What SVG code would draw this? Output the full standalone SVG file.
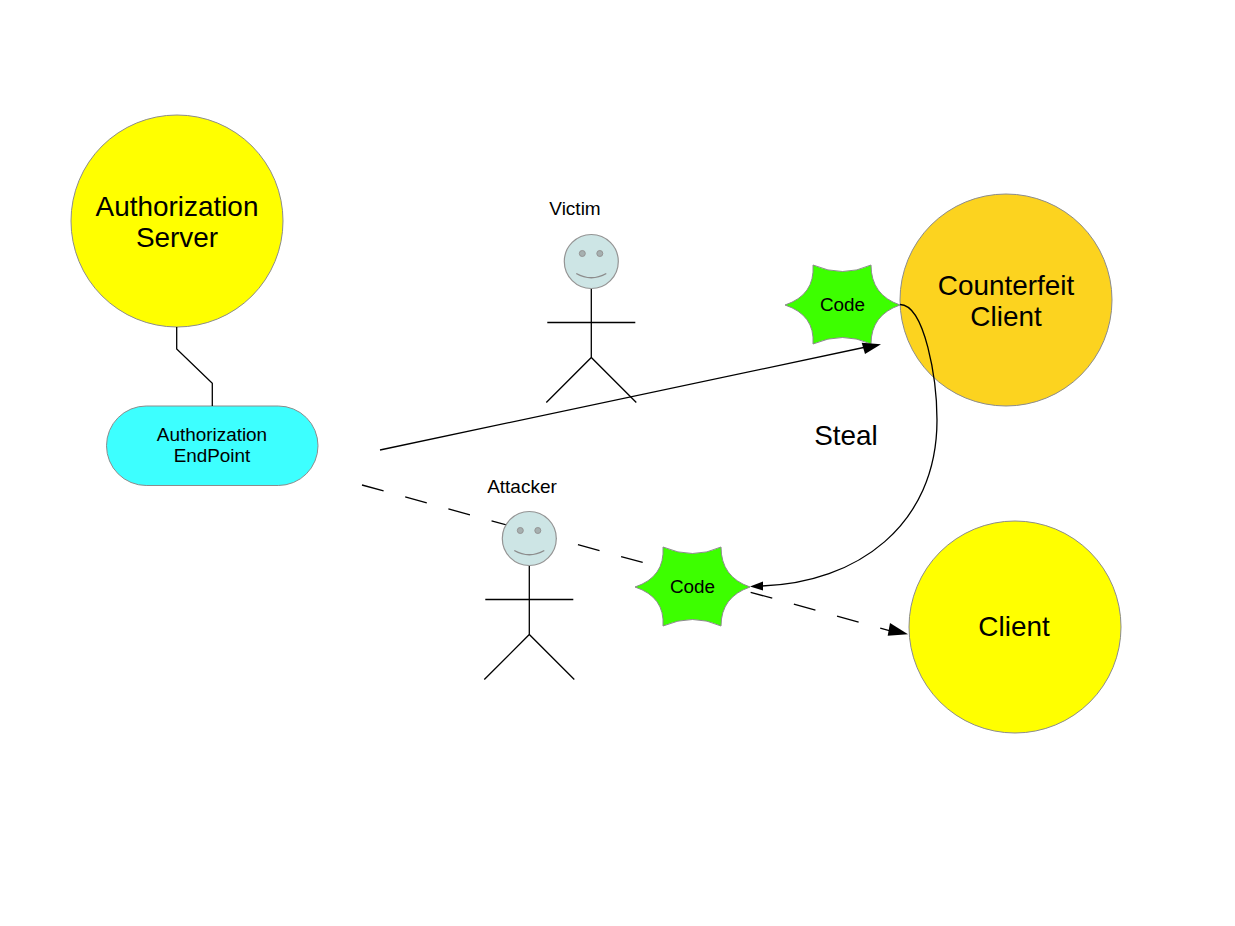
<svg xmlns="http://www.w3.org/2000/svg" width="1235" height="926" viewBox="0 0 1235 926">
<style>
text{font-family:"Liberation Sans",Arial,sans-serif;fill:#000;text-anchor:middle}
.big{font-size:27.900px}
.mid{font-size:18.900px}
.small{font-size:19px}
.shape{stroke:#8c8c8c;stroke-width:1}
.line{fill:none;stroke:#000;stroke-width:1.300}
.face{fill:#cde5e5;stroke:#949494;stroke-width:1.200}
.eye{fill:#a6b0b0;stroke:#949494;stroke-width:1}
.smile{fill:none;stroke:#8c8c8c;stroke-width:1.400}
</style>
<defs>
<path id="star" class="shape" fill="#3dff00" d="M-58 0Q-28 -10 -30 -40Q0 -27 28 -40Q28 -10 57 0Q28 10 28 39Q0 26 -30 39Q-28 10 -58 0Z"/>
<g id="person">
<path class="line" d="M0 27V96M-44 61H44M-45 141L0 96L45 141"/>
<circle class="face" cx="0" cy="0" r="27"/>
<circle class="eye" cx="-9" cy="-8" r="3"/>
<circle class="eye" cx="8.500" cy="-8" r="3"/>
<path class="smile" d="M-15 12Q0 20.500 15 12"/>
</g>
</defs>
<rect width="1235" height="926" fill="#fff"/>
<g id="connector-dashed-under"><path class="line" stroke-dasharray="22.400 22.400" d="M362 485L892 631.300"/></g>
<g id="auth-server">
<circle class="shape" cx="177" cy="221" r="106" fill="#ffff00"/>
<text class="big" x="177" y="216">Authorization</text>
<text class="big" x="177" y="247">Server</text>
</g>
<g id="auth-endpoint">
<rect class="shape" x="106.500" y="406" width="211.500" height="79.500" rx="39.700" fill="#3dffff"/>
<text class="mid" x="212" y="441">Authorization</text>
<text class="mid" x="212" y="462">EndPoint</text>
</g>
<g id="counterfeit-client">
<circle class="shape" cx="1006" cy="300" r="106" fill="#fcd31f"/>
<text class="big" x="1006" y="295">Counterfeit</text>
<text class="big" x="1006" y="326">Client</text>
</g>
<g id="client">
<circle class="shape" cx="1015" cy="627" r="106" fill="#ffff00"/>
<text class="big" x="1014" y="636">Client</text>
</g>
<g id="victim">
<use href="#person" x="591.300" y="261.500"/>
<text class="small" x="575" y="215">Victim</text>
</g>
<g id="attacker">
<use href="#person" x="529.300" y="538.500"/>
<text class="small" x="522" y="493">Attacker</text>
</g>
<g id="code-top">
<use href="#star" x="843" y="305"/>
<text class="mid" x="842.500" y="311">Code</text>
</g>
<g id="code-bottom">
<use href="#star" x="693" y="587"/>
<text class="mid" x="692.500" y="593">Code</text>
</g>
<g id="connectors">
<path class="line" d="M212.300 406V383.300L176.700 349V327"/>
<path class="line" d="M380 450L866 347"/>
<path fill="#000" d="M881 344.300L865 354L861.700 342.700Z"/>
<path class="line" d="M900 304.500C925 305 937 380 937 420C937 526 856 583 762 586"/>
<path fill="#000" d="M750 586.500L763 581.500V590.500Z"/>
<path fill="#000" d="M908 634.300L887.700 635.700L890 623Z"/>
</g>
<text class="big" x="846" y="445">Steal</text>
</svg>
